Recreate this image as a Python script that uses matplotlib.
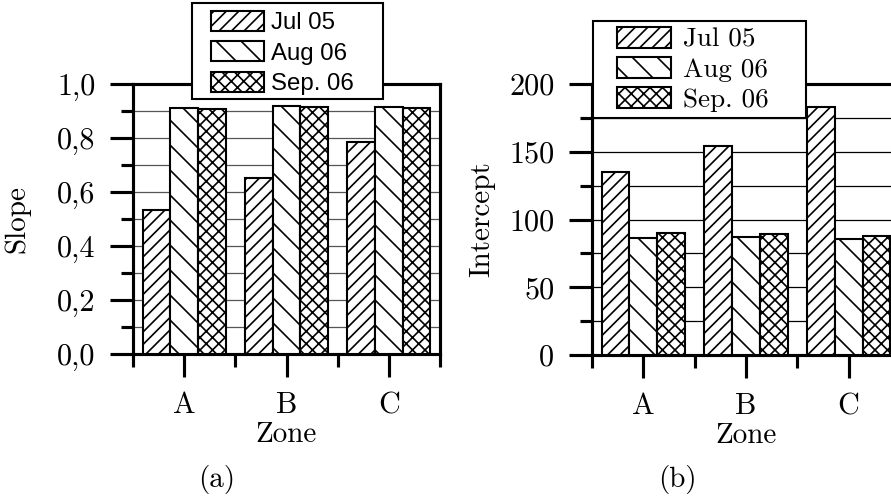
import matplotlib
matplotlib.use("Agg")
import matplotlib.pyplot as plt
from matplotlib.patches import Rectangle
import numpy as np

# data
zones = ["A", "B", "C"]
series = ["Jul 05", "Aug 06", "Sep. 06"]
slope_jul05 = [0.533, 0.652, 0.785]
slope_aug06 = [0.911, 0.919, 0.914]
slope_sep06 = [0.907, 0.914, 0.911]
icpt_jul05 = [135, 154, 183]
icpt_aug06 = [86, 87, 85.5]
icpt_sep06 = [90, 89.5, 87.5]
slope_ticks = [0.0, 0.2, 0.4, 0.6, 0.8, 1.0]
slope_ticklabels = ["0,0", "0,2", "0,4", "0,6", "0,8", "1,0"]
icpt_ticks = [0, 50, 100, 150, 200]
icpt_ticklabels = ["0", "50", "100", "150", "200"]

hatches = ["////", "\\\\", "xxxx"]

plt.rcParams["font.family"] = ["cmr10", "DejaVu Serif"]
plt.rcParams["axes.formatter.use_mathtext"] = True
plt.rcParams["hatch.linewidth"] = 0.8
plt.rcParams["font.size"] = 14

W, H = 891, 498
fig = plt.figure(figsize=(W / 150, H / 150), dpi=150)
ax1 = fig.add_axes([133 / W, 1 - 354 / H, 307 / W, 270 / H])
ax2 = fig.add_axes([592 / W, 1 - 355 / H, 308 / W, 271 / H])

x = np.arange(len(zones))
w = 0.27


def draw(ax, vals, ylim, ticks, ticklabels, minor, grid_color, ylabel):
    bars = []
    for i, v in enumerate(vals):
        b = ax.bar(x + (i - 1) * w, v, w, color="white", edgecolor="black",
                   hatch=hatches[i], linewidth=1.0, zorder=3)
        bars.append(b)
    ax.set_xlim(-0.5, 2.5)
    ax.set_ylim(*ylim)
    ax.set_yticks(ticks)
    ax.set_yticklabels(ticklabels)
    ax.set_yticks(minor, minor=True)
    ax.set_xticks(x)
    ax.set_xticklabels(zones)
    ax.set_xticks([-0.5, 0.5, 1.5, 2.5], minor=True)
    ax.tick_params(which="major", direction="out", length=11, width=1.5,
                   pad=7, labelsize=14.5)
    ax.tick_params(which="minor", direction="out", length=6, width=1.5)
    ax.tick_params(axis="x", which="major", pad=7)
    ax.tick_params(right=False, top=False)
    for s in ax.spines.values():
        s.set_linewidth(1.5)
    for g in list(ticks) + list(minor):
        if ylim[0] < g < ylim[1]:
            ax.axhline(g, color=grid_color, lw=0.6, zorder=1)
    ax.set_xlabel("Zone", fontsize=14)
    ax.xaxis.set_label_coords(0.5, -0.25)
    ax.set_ylabel(ylabel, fontsize=14)
    return bars


bars1 = draw(ax1, [slope_jul05, slope_aug06, slope_sep06], (0, 1.0),
             slope_ticks, slope_ticklabels, [0.1, 0.3, 0.5, 0.7, 0.9],
             "#555555", "Slope")
ax1.yaxis.set_label_coords(-0.335, 0.5)

bars2 = draw(ax2, [icpt_jul05, icpt_aug06, icpt_sep06], (0, 200),
             icpt_ticks, icpt_ticklabels, [25, 75, 125, 175],
             "black", "Intercept")
ax2.yaxis.set_label_coords(-0.315, 0.5)

# legend frames drawn separately so their size matches the reference
for (fx, fy, fw, fh) in [(192, 3, 191, 96), (593, 21, 213, 97)]:
    fig.patches.append(Rectangle((fx / W, 1 - (fy + fh) / H), fw / W, fh / H,
                                 transform=fig.transFigure, facecolor="white",
                                 edgecolor="black", lw=1.0, zorder=4))

leg1 = fig.legend(bars1, series, loc="upper left",
                  bbox_to_anchor=(211 / W, 1 - 11 / H),
                  borderaxespad=0, borderpad=0, frameon=False,
                  prop={"family": "Liberation Sans", "size": 11.5},
                  handlelength=2.2, handleheight=0.9, handletextpad=0.3,
                  labelspacing=0.3)
leg1.set_zorder(5)

leg2 = fig.legend(bars2, series, loc="upper left",
                  bbox_to_anchor=(617 / W, 1 - 27 / H),
                  borderaxespad=0, borderpad=0, frameon=False,
                  prop={"size": 13},
                  handlelength=2.0, handleheight=0.8, handletextpad=0.42,
                  labelspacing=0.2)
leg2.set_zorder(5)

fig.text(217 / W, 1 - 480 / H, "(a)", ha="center", va="center", fontsize=14)
fig.text(677 / W, 1 - 480 / H, "(b)", ha="center", va="center", fontsize=14)

fig.savefig("out.png", dpi=150)
